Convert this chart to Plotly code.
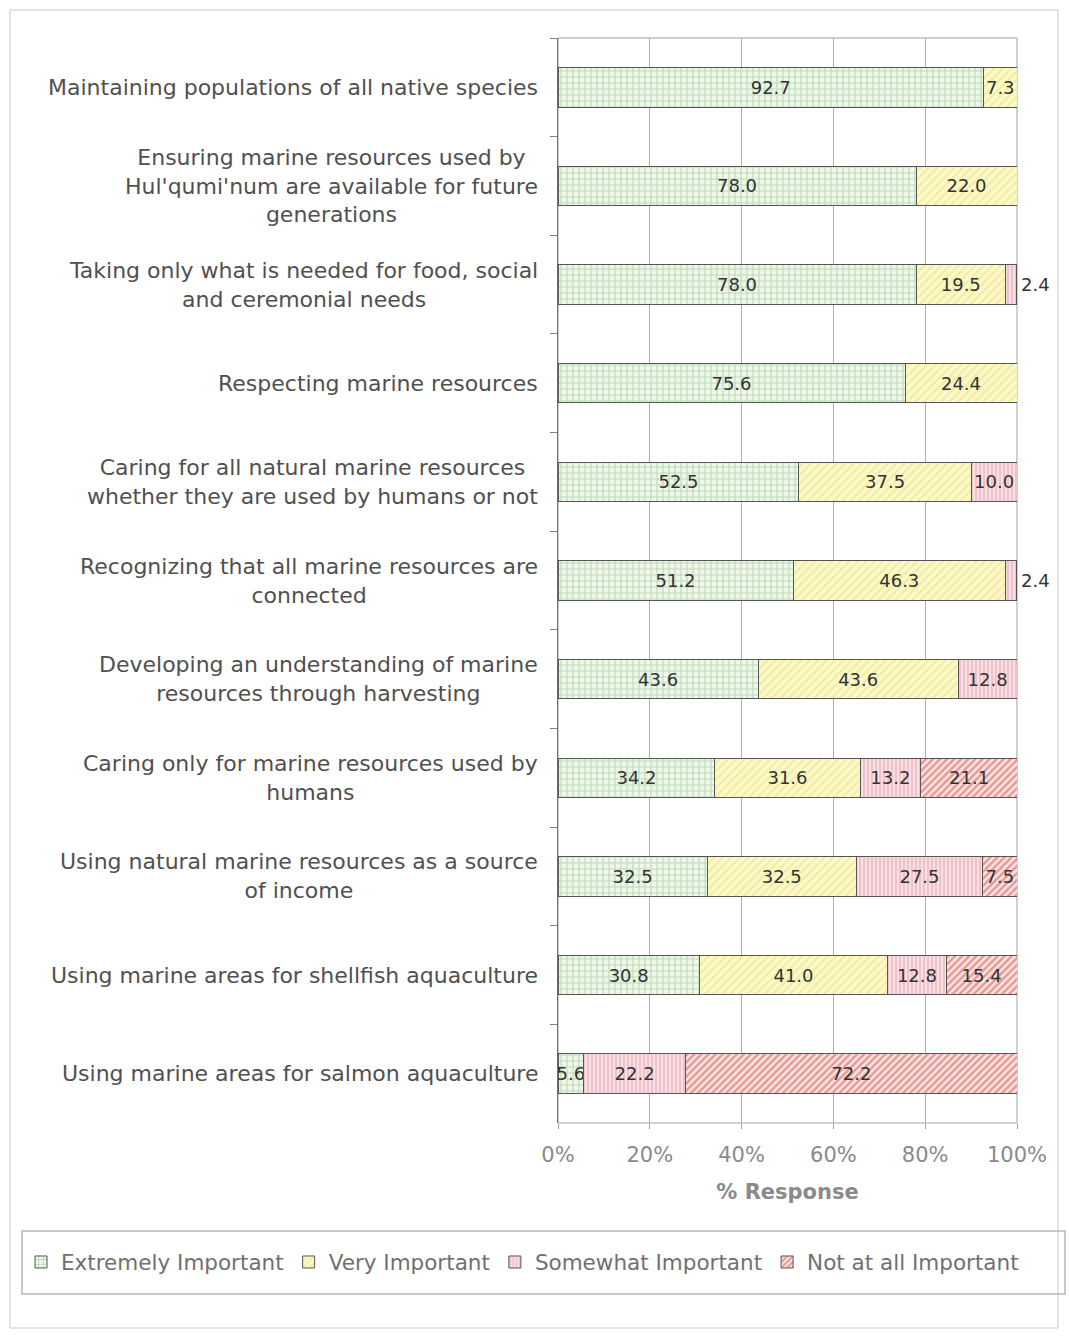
import plotly.graph_objects as go

# Survey statements (top to bottom) and the share of responses in each class
categories = [
    "Maintaining populations of all native species",
    "Ensuring marine resources used by<br>Hul'qumi'num are available for future<br>generations",
    "Taking only what is needed for food, social<br>and ceremonial needs",
    "Respecting marine resources",
    "Caring for all natural marine resources<br>whether they are used by humans or not",
    "Recognizing that all marine resources are<br>connected",
    "Developing an understanding of marine<br>resources through harvesting",
    "Caring only for marine resources used by<br>humans",
    "Using natural marine resources as a source<br>of income",
    "Using marine areas for shellfish aquaculture",
    "Using marine areas for salmon aquaculture",
]
extremely = [92.7, 78.0, 78.0, 75.6, 52.5, 51.2, 43.6, 34.2, 32.5, 30.8, 5.6]
very = [7.3, 22.0, 19.5, 24.4, 37.5, 46.3, 43.6, 31.6, 32.5, 41.0, 0.0]
somewhat = [0.0, 0.0, 2.4, 0.0, 10.0, 2.4, 12.8, 13.2, 27.5, 12.8, 22.2]
not_at_all = [0.0, 0.0, 0.0, 0.0, 0.0, 0.0, 0.0, 21.1, 7.5, 15.4, 72.2]
tick_vals = [0, 20, 40, 60, 80, 100]
tick_text = ["0%", "20%", "40%", "60%", "80%", "100%"]

FONT = "DejaVu Sans"

series = [
    ("Extremely Important", extremely, "#eef7e8", "#8cc08c", "+", 0.35, 6),
    ("Very Important", very, "#fcf9c4", "#e2d88a", "/", 0.3, 6),
    ("Somewhat Important", somewhat, "#f9dfe4", "#e497a6", "|", 0.4, 4),
    ("Not at all Important", not_at_all, "#fae6e4", "#d24c48", "/", 0.5, 5),
]

# Plot area in pixels
L, R, T, B = 558, 1017, 38, 1123
W, H = 1069, 1338


def px_x(p):
    return (p - L) / (R - L)


def px_y(p):
    return (B - p) / (B - T)


fig = go.Figure()
for name, vals, bg, fg, shape, solidity, size in series:
    texts = [f"{v:.1f}" if v >= 5 else "" for v in vals]
    fig.add_trace(go.Bar(
        name=name,
        y=categories,
        x=[v if v > 0 else None for v in vals],
        orientation="h",
        text=texts,
        textposition="inside",
        insidetextanchor="middle",
        textangle=0,
        constraintext="none",
        textfont=dict(family=FONT, size=18, color="#333333"),
        marker=dict(
            color=bg,
            line=dict(color="#555555", width=1),
            pattern=dict(shape=shape, fgcolor=fg, bgcolor=bg,
                         solidity=solidity, size=size, fillmode="overlay"),
        ),
        hoverinfo="skip",
    ))

# Small segments carry their value just outside the bar end
outside_labels = []
for i, cat in enumerate(categories):
    for vals in (somewhat, not_at_all):
        v = vals[i]
        if 0 < v < 5:
            end = extremely[i] + very[i] + somewhat[i] + not_at_all[i]
            outside_labels.append(dict(
                x=end, y=cat, xref="x", yref="y", text=f"{v:.1f}",
                showarrow=False, xanchor="left", xshift=2,
                font=dict(family=FONT, size=18, color="#333333"),
            ))

# Statement labels, centred line by line and right-aligned to the axis
label_annots = [
    dict(x=px_x(540), y=cat, xref="paper", yref="y", text=cat,
         showarrow=False, xanchor="right", align="center",
         font=dict(family=FONT, size=22, color="#505050"))
    for cat in categories
]

shapes = [
    # outer chart frame
    dict(type="rect", xref="paper", yref="paper",
         x0=px_x(10), x1=px_x(1058), y0=px_y(1328), y1=px_y(10),
         line=dict(color="#c8c8c8", width=1), layer="below"),
    # plot area frame
    dict(type="rect", xref="paper", yref="paper",
         x0=0, x1=1, y0=0, y1=1,
         line=dict(color="#a0a0a0", width=1), layer="below"),
    # legend frame
    dict(type="rect", xref="paper", yref="paper",
         x0=px_x(22), x1=px_x(1065), y0=px_y(1294), y1=px_y(1231),
         line=dict(color="#b8b8b8", width=1.5)),
]

fig.update_layout(
    width=W, height=H,
    margin=dict(l=L, r=W - R, t=T, b=H - B, autoexpand=False),
    paper_bgcolor="white",
    plot_bgcolor="white",
    barmode="stack",
    bargap=0.6,
    showlegend=True,
    legend=dict(
        orientation="h",
        xref="paper", yref="paper",
        x=px_x(21), y=px_y(1262), xanchor="left", yanchor="middle",
        font=dict(family=FONT, size=21.5, color="#707070"),
        bgcolor="rgba(0,0,0,0)",
        borderwidth=0,
        itemwidth=30,
        traceorder="normal",
    ),
    annotations=label_annots + outside_labels,
    shapes=shapes,
    xaxis=dict(
        range=[0, 100],
        tickvals=tick_vals,
        ticktext=tick_text,
        showgrid=True,
        gridcolor="#b0b0b0",
        gridwidth=1,
        zeroline=False,
        ticks="outside",
        ticklen=5,
        tickcolor="#a0a0a0",
        ticklabelstandoff=8,
        tickfont=dict(family=FONT, size=21, color="#8a8a8a"),
        title=dict(text="<b>% Response</b>", standoff=18,
                   font=dict(family=FONT, size=21, color="#8a8a8a")),
        fixedrange=True,
    ),
    yaxis=dict(
        autorange="reversed",
        showticklabels=False,
        ticks="outside",
        tickson="boundaries",
        ticklen=7,
        tickcolor="#808080",
        showline=True,
        linecolor="#707070",
        linewidth=1,
        showgrid=False,
        fixedrange=True,
    ),
)

fig.write_html("out.html")
